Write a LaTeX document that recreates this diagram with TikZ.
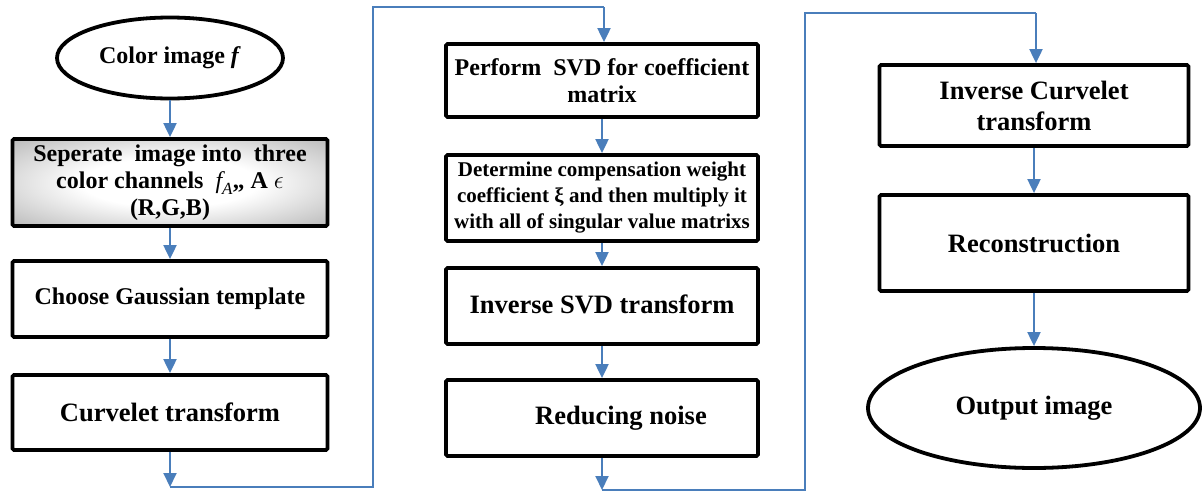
\documentclass[tikz,border=0pt]{standalone}
\usepackage{fontspec}
\setmainfont{Liberation Serif}
\usetikzlibrary{arrows.meta,shapes.geometric}
\definecolor{arrowblue}{RGB}{74,126,187}
\pgfdeclareradialshading{boxshade}{\pgfpoint{0bp}{0bp}}{color(0bp)=(white); color(14bp)=(white); color(50bp)=(black!45); color(75bp)=(black!52)}
\begin{document}
\begin{tikzpicture}[x=1pt,y=-1pt,
  box/.style={draw, line width=3.8pt, rounded corners=1.5pt, align=center, inner sep=0pt, fill=white},
  oval/.style={draw, ellipse, line width=3.8pt, align=center, inner sep=0pt, fill=white},
  fA/.style={font=\bfseries\fontsize{24}{27}\selectfont},
  fB/.style={font=\bfseries\fontsize{26.5}{31}\selectfont},
  fC/.style={font=\bfseries\fontsize{21}{26}\selectfont},
  arr/.style={draw=arrowblue, line width=2pt, -{Triangle[width=13pt,length=14pt]}},
  wire/.style={draw=arrowblue, line width=2pt}]
\useasboundingbox (0,0) rectangle (1203,493);
% left column
\node[oval, fA, minimum width=226pt, minimum height=81pt] (b1) at (170,58) {Color image \textit{f}};
\node[box, fA, shade, shading=boxshade, minimum width=315pt, minimum height=87pt] (b2) at (170,182.5)
  {Seperate\ \ image into\ \ three\\ color channels\ \ {\mdseries\itshape f}\raisebox{-0.25em}{\fontsize{17}{17}\selectfont\mdseries\itshape A},, A $\epsilon$\\ (R,G,B)};
\node[box, fA, minimum width=315pt, minimum height=76pt] (b3) at (170,299) {Choose Gaussian template};
\node[box, fB, minimum width=315pt, minimum height=75pt] (b4) at (170,412.5) {Curvelet transform};
% middle column
\node[box, fA, minimum width=312pt, minimum height=73pt] (b5) at (602,80.5) {Perform\ \ SVD for coefficient\\ matrix};
\node[box, fC, minimum width=312pt, minimum height=86pt] (b6) at (602,198) {Determine compensation weight\\ coefficient ξ and then multiply it\\ with all of singular value matrixs};
\node[box, fB, minimum width=312pt, minimum height=76pt] (b7) at (602,306) {\raisebox{3pt}{Inverse SVD transform}};
\node[box, fB, minimum width=312pt, minimum height=76pt] (b8) at (602,418) {\raisebox{-2pt}{\hspace*{38pt}Reducing noise}};
% right column
\node[box, fB, minimum width=309pt, minimum height=81pt] (b9) at (1034,105.5) {Inverse Curvelet\\ transform};
\node[box, fB, minimum width=309pt, minimum height=96pt] (b10) at (1034,243) {Reconstruction};
\node[oval, fB, minimum width=332pt, minimum height=120pt] (b11) at (1034,408) {Output image};
% coordinates of the loops
\coordinate (c1) at (170,487);
\coordinate (k1) at (373,487);
\coordinate (k2) at (373,7);
\coordinate (k3) at (604,7);
\coordinate (c2) at (602,490);
\coordinate (k4) at (805,490);
\coordinate (k5) at (805,13);
\coordinate (k6) at (1036,13);
% connectors
\draw[arr] (b1) -- (b2);
\draw[arr] (b2) -- (b3);
\draw[arr] (b3) -- (b4);
\draw[arr] (b4) -- (c1);
\draw[wire] (c1) -- (k1) -- (k2) -- (k3);
\draw[arr] (k3) -- (k3 |- b5.north);
\draw[arr] (b5) -- (b6);
\draw[arr] (b6) -- (b7);
\draw[arr] (b7) -- (b8);
\draw[arr] (b8) -- (c2);
\draw[wire] (c2) -- (k4) -- (k5) -- (k6);
\draw[arr] (k6) -- (k6 |- b9.north);
\draw[arr] (b9) -- (b10);
\draw[arr] (b10) -- (b11);
\end{tikzpicture}
\end{document}
